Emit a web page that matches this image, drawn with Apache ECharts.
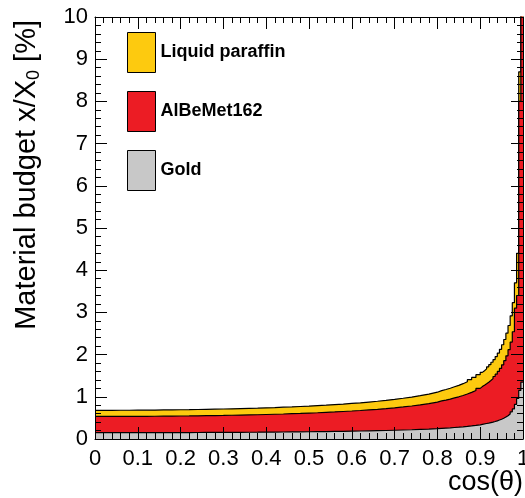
<!DOCTYPE html>
<html>
<head>
<meta charset="utf-8">
<script src="https://cdn.jsdelivr.net/npm/echarts@6/dist/echarts.min.js"></script>
<style>
html,body{margin:0;padding:0;background:#fff;}
#chart{width:525px;height:498px;}
</style>
</head>
<body>
<div id="chart"></div>
<script>
// Bin edges in cos(theta)
const binEdges = [0,0.02,0.04,0.06,0.08,0.10,0.12,0.14,0.16,0.18,0.20,0.22,0.24,0.26,0.28,0.30,0.32,0.34,0.36,0.38,
  0.40,0.42,0.44,0.46,0.48,0.50,0.52,0.54,0.56,0.58,0.60,0.62,0.64,0.66,0.68,0.70,0.72,0.74,0.76,0.78,0.80,
  0.81,0.82,0.83,0.84,0.85,0.86,0.87,0.88,0.89,0.90,
  0.905,0.91,0.915,0.92,0.925,0.93,0.935,0.94,0.945,0.95,0.955,0.96,0.965,0.97,0.975,0.98,0.985,0.99,0.995,1.0];

// Per-layer material budget [%] per bin
const gold = [0.150,0.150,0.150,0.150,0.151,0.151,0.151,0.152,0.152,0.153,
  0.153,0.154,0.155,0.156,0.157,0.158,0.159,0.160,0.161,0.163,
  0.164,0.166,0.168,0.170,0.172,0.174,0.177,0.180,0.183,0.186,
  0.189,0.193,0.197,0.202,0.207,0.213,0.219,0.227,0.235,0.245,
  0.253,0.259,0.265,0.273,0.280,0.289,0.299,0.310,0.322,0.336,
  0.348,0.357,0.367,0.377,0.389,0.401,0.415,0.431,0.449,0.469,
  0.493,0.520,0.553,0.593,0.644,0.713,0.82,0.96,1.15,1.35];
const albemet = [0.385,0.385,0.386,0.386,0.387,0.387,0.388,0.389,0.391,0.392,
  0.394,0.396,0.398,0.400,0.402,0.405,0.408,0.411,0.414,0.418,
  0.422,0.426,0.431,0.436,0.442,0.448,0.454,0.461,0.469,0.477,
  0.486,0.496,0.507,0.519,0.532,0.547,0.563,0.582,0.603,0.628,
  0.649,0.664,0.681,0.700,0.720,0.742,0.767,0.795,0.827,0.863,
  0.894,0.917,0.941,0.968,0.997,1.030,1.066,1.106,1.152,1.204,
  1.264,1.335,1.419,1.523,1.653,1.829,2.28,2.44,6.85,10.65];
const paraffin = [0.145,0.145,0.145,0.145,0.146,0.146,0.146,0.147,0.147,0.148,
  0.148,0.149,0.150,0.151,0.152,0.153,0.154,0.155,0.156,0.157,
  0.159,0.161,0.162,0.164,0.166,0.169,0.171,0.174,0.176,0.180,
  0.183,0.187,0.191,0.195,0.200,0.206,0.212,0.219,0.227,0.236,
  0.244,0.250,0.257,0.264,0.271,0.280,0.289,0.300,0.311,0.325,
  0.337,0.345,0.354,0.365,0.376,0.388,0.401,0.417,0.434,0.453,
  0.476,0.503,0.535,0.573,0.623,0.689,0.60,1.00,0.70,3.00];

const layerNames = ['Liquid paraffin', 'AlBeMet162', 'Gold'];
const layerColors = ['#FDCA0F', '#EC1C24', '#C8C8C8'];

// cumulative stacking (gold at bottom)
function stepData(layers) {
  const pts = [];
  for (let i = 0; i < gold.length; i++) {
    let v = 0;
    layers.forEach(l => { v += l[i]; });
    pts.push([binEdges[i], v]);
  }
  pts.push([binEdges[binEdges.length - 1], pts[pts.length - 1][1]]);
  return pts;
}
const stacks = [
  stepData([gold, albemet, paraffin]),
  stepData([gold, albemet]),
  stepData([gold])
];

const FONT = 'Liberation Sans, Arial, Helvetica, sans-serif';
const black = '#000';

function axisCommon(showLabel) {
  return {
    z: 10,
    axisLine: {show: true, onZero: false, lineStyle: {color: black, width: 1}},
    axisTick: {show: true, inside: true, length: 12, lineStyle: {color: black, width: 1}},
    minorTick: {show: true, splitNumber: 5, length: 6, lineStyle: {color: black, width: 1}},
    splitLine: {show: false},
    minorSplitLine: {show: false},
    axisLabel: {show: showLabel, color: black, fontFamily: FONT, fontSize: 22}
  };
}

const chart = echarts.init(document.getElementById('chart'), null, {renderer: 'canvas'});
const option = {
  backgroundColor: '#fff',
  animation: false,
  grid: {left: 95, right: 2, top: 17, bottom: 59, containLabel: false, outerBoundsMode: 'none'},
  legend: {
    orient: 'vertical', left: 122, top: 27,
    itemWidth: 28, itemHeight: 40, itemGap: 18,
    icon: 'rect',
    itemStyle: {borderColor: black, borderWidth: 1},
    textStyle: {color: black, fontFamily: FONT, fontSize: 18, fontWeight: 'bold'},
    data: layerNames.map((n, i) => ({name: n, icon: 'rect', itemStyle: {color: layerColors[i], borderColor: black, borderWidth: 1}}))
  },
  xAxis: [
    Object.assign({type: 'value', position: 'bottom', min: 0, max: 1, interval: 0.1,
      name: 'cos(θ)', nameLocation: 'end', nameGap: 0, nameMoveOverlap: false,
      nameTextStyle: {color: black, fontFamily: FONT, fontSize: 27, align: 'right', verticalAlign: 'top', padding: [30, 0, 0, 0]}
    }, axisCommon(true)),
    Object.assign({type: 'value', position: 'top', min: 0, max: 1, interval: 0.1}, axisCommon(false))
  ],
  yAxis: [
    Object.assign({type: 'value', position: 'left', min: 0, max: 10, interval: 1,
      name: 'Material budget x/X{sub|0} [%]', nameLocation: 'end', nameGap: -3, nameRotate: 90, nameMoveOverlap: false,
      nameTextStyle: {color: black, fontFamily: FONT, fontSize: 29, align: 'right', verticalAlign: 'bottom', padding: [0, 0, 52, 0],
        rich: {sub: {fontFamily: FONT, fontSize: 18, color: black, padding: [14, 0, 0, 0]}}}
    }, axisCommon(true)),
    Object.assign({type: 'value', position: 'right', min: 0, max: 10, interval: 1}, axisCommon(false))
  ],
  series: stacks.map((d, i) => ({
    name: layerNames[i],
    type: 'line',
    step: 'end',
    data: d,
    showSymbol: false,
    symbol: 'none',
    clip: true,
    color: layerColors[i],
    lineStyle: {color: black, width: 1.2},
    areaStyle: {color: layerColors[i], opacity: 1},
    z: 2 + i
  }))
};
option.yAxis[0].axisLabel.margin = 7;
option.xAxis[0].axisLabel.margin = 9;
chart.setOption(option);
</script>
</body>
</html>
